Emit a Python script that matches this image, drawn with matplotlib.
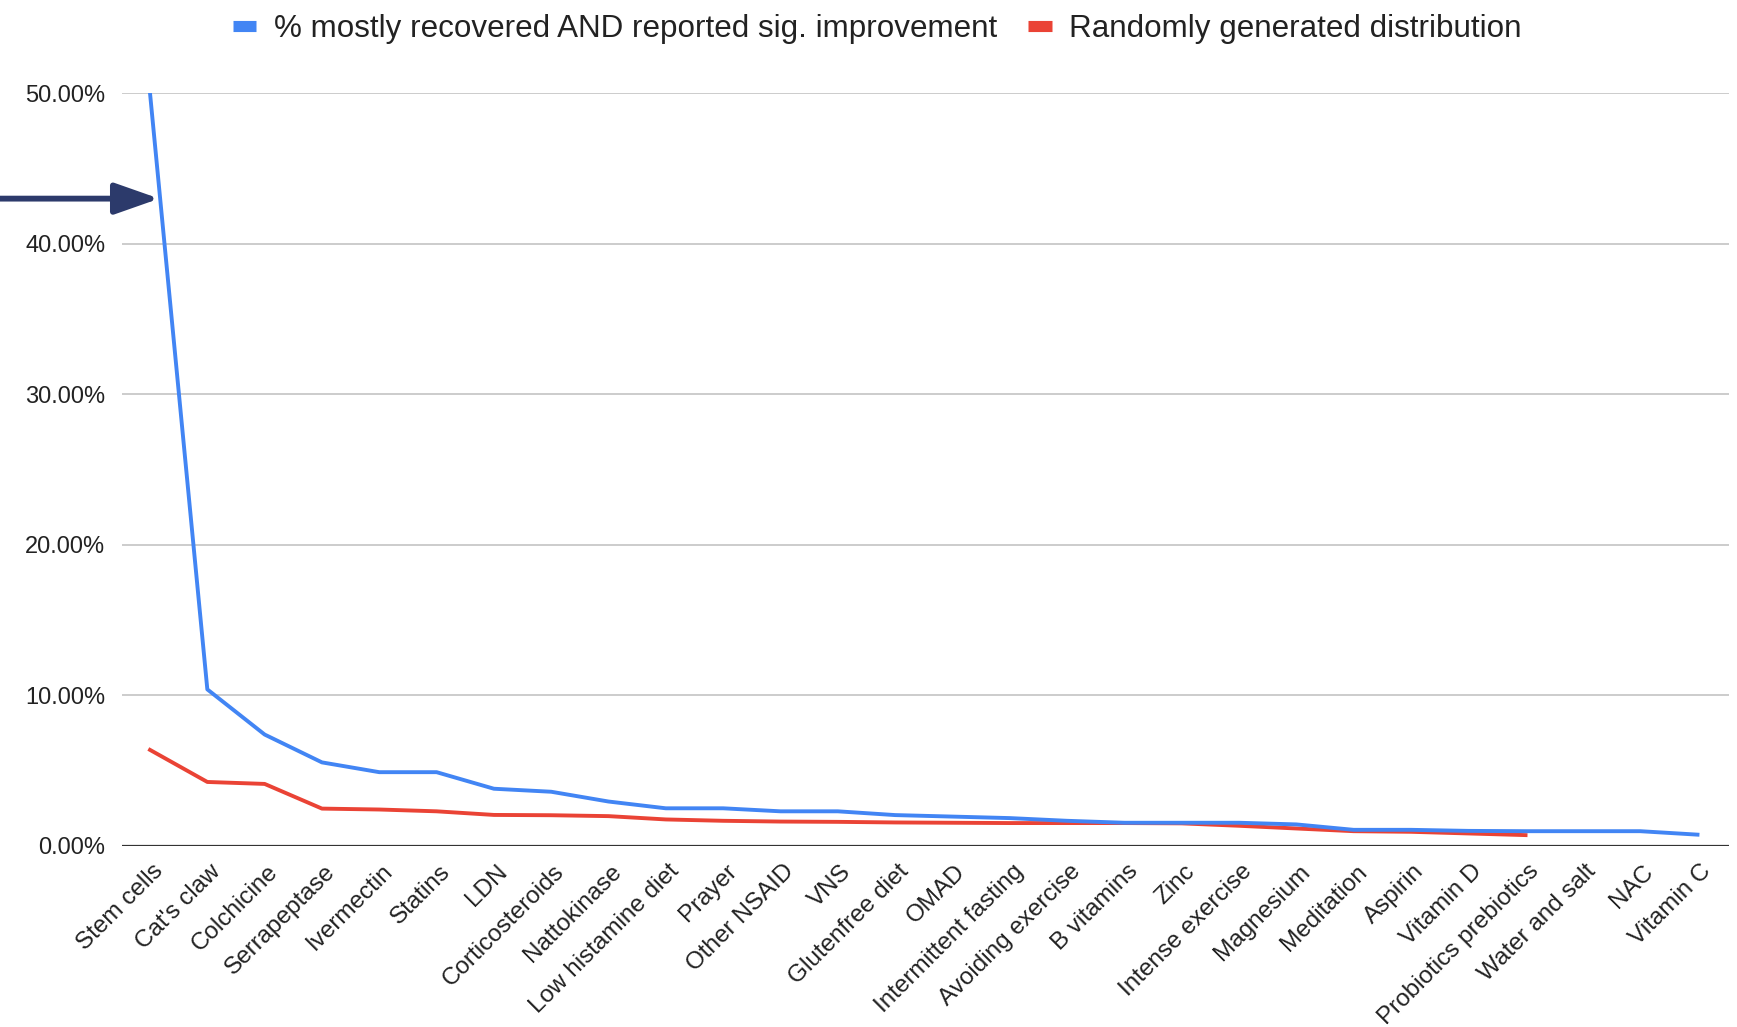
import numpy as np
import matplotlib.pyplot as plt
from matplotlib.lines import Line2D
from matplotlib.ticker import FuncFormatter, MultipleLocator
from matplotlib.transforms import ScaledTranslation

plt.rcParams['font.family'] = ['Liberation Sans', 'DejaVu Sans']

# ---------------------------------------------------------------------
# data (percent)
treatments = [
    "Stem cells", "Cat's claw", "Colchicine", "Serrapeptase", "Ivermectin",
    "Statins", "LDN", "Corticosteroids", "Nattokinase", "Low histamine diet",
    "Prayer", "Other NSAID", "VNS", "Glutenfree diet", "OMAD",
    "Intermittent fasting", "Avoiding exercise", "B vitamins", "Zinc",
    "Intense exercise", "Magnesium", "Meditation", "Aspirin", "Vitamin D",
    "Probiotics prebiotics", "Water and salt", "NAC", "Vitamin C",
]
recovered_pct = [
    50.0, 10.4, 7.4, 5.55, 4.9, 4.9, 3.8, 3.6, 2.95, 2.5,
    2.5, 2.3, 2.3, 2.05, 1.95, 1.85, 1.67, 1.54, 1.54, 1.54,
    1.43, 1.07, 1.07, 1.0, 0.98, 0.98, 0.98, 0.75,
]
random_pct = [
    6.38, 4.25, 4.12, 2.48, 2.42, 2.3, 2.06, 2.04, 1.98, 1.76,
    1.67, 1.62, 1.6, 1.56, 1.54, 1.52, 1.52, 1.52, 1.5, 1.34,
    1.16, 0.98, 0.94, 0.83, 0.72,
]
arrow_level = 43.0

BLUE = "#4285F4"
RED = "#EA4335"
NAVY = "#2C3A6B"

# ---------------------------------------------------------------------
fig = plt.figure(figsize=(17.37, 10.27), dpi=100)
ax = fig.add_axes([0.0702, 0.1763, 0.9252, 0.7329])

x = np.arange(len(treatments))
ax.plot(x, recovered_pct, color=BLUE, lw=2.8, solid_joinstyle="round", zorder=4)
ax.plot(x[:len(random_pct)], random_pct, color=RED, lw=2.8,
        solid_joinstyle="round", zorder=3)

ax.set_xlim(-0.49, len(treatments) - 0.45)
ax.set_ylim(0, 50)
ax.yaxis.set_major_locator(MultipleLocator(10))
ax.yaxis.set_major_formatter(FuncFormatter(lambda v, p: f"{v:.2f}%"))
ax.grid(axis="y", color="#cccccc", lw=1.4)
ax.set_axisbelow(True)
for s in ax.spines.values():
    s.set_visible(False)
ax.axhline(0, color="#333333", lw=1.6, zorder=2)

ax.tick_params(axis="y", length=0, pad=12, labelsize=17, labelcolor="#222222")
ax.tick_params(axis="x", length=0, pad=16, labelsize=17.5, labelcolor="#222222")
ax.set_xticks(x)
ax.set_xticklabels(treatments, rotation=45, ha="right", va="center",
                   rotation_mode="anchor")
shift = ScaledTranslation(10 / 100, 0, fig.dpi_scale_trans)
for lab in ax.get_xticklabels():
    lab.set_transform(lab.get_transform() + shift)

# arrow pointing at the blue line
ax.annotate("", xy=(0.16, arrow_level), xycoords="data",
            xytext=(0, arrow_level), textcoords=("figure fraction", "data"),
            arrowprops=dict(arrowstyle="-|>,head_length=2.7,head_width=0.95",
                            color=NAVY, lw=4.2, shrinkA=0, shrinkB=0),
            annotation_clip=False, zorder=6)

handles = [Line2D([], [], color=BLUE, lw=8, solid_capstyle="butt"),
           Line2D([], [], color=RED, lw=8, solid_capstyle="butt")]
labels = ["% mostly recovered AND reported sig. improvement",
          "Randomly generated distribution"]
leg = fig.legend(handles, labels, loc="center", bbox_to_anchor=(0.505, 0.972),
                 ncol=2, frameon=False, fontsize=22.6, handlelength=0.75,
                 handletextpad=0.55, columnspacing=1.0)
for t in leg.get_texts():
    t.set_color("#222222")

fig.savefig("out.png", dpi=100)
